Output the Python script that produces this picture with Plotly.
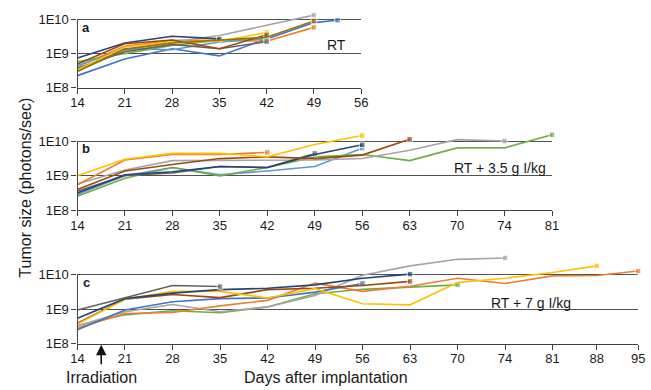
import numpy as np
import plotly.graph_objects as go

# ---------------- data (tumor size, log10 photons/sec) ----------------
TICKS_A = [14, 21, 28, 35, 42, 49, 56]
TICKS_B = [14, 21, 28, 35, 42, 49, 56, 63, 70, 74, 81]
TICKS_C = [14, 21, 28, 35, 42, 49, 56, 63, 70, 74, 81, 88, 95]

# Panel a: RT
A_BLUE_D = [14, 21, 28, 35, 42, 49, 52.5]
A_BLUE = [8.36, 8.85, 9.15, 8.94, 9.44, 9.92, 9.99]
A_ORANGE_D = [14, 21, 28, 35, 42, 49]
A_ORANGE = [8.63, 9.22, 9.40, 9.40, 9.37, 9.78]
A_GRAY_D = [14, 21, 28, 35, 42, 49]
A_GRAY = [8.50, 9.10, 9.35, 9.54, 9.84, 10.14]
A_YELLOW_D = [14, 21, 28, 35, 42]
A_YELLOW = [8.53, 9.20, 9.35, 9.37, 9.63]
A_LBLUE_D = [14, 21, 28, 35, 42]
A_LBLUE = [8.65, 9.15, 9.12, 9.35, 9.45]
A_GREEN_D = [14, 21, 28, 35, 42]
A_GREEN = [8.77, 9.01, 9.25, 9.40, 9.47]
A_NAVY_D = [14, 21, 28, 35]
A_NAVY = [8.88, 9.32, 9.52, 9.44]
A_BROWN_D = [14, 21, 28, 35, 42]
A_BROWN = [8.70, 9.30, 9.41, 9.15, 9.56]
A_DGRAY_D = [14, 21, 28, 35, 42]
A_DGRAY = [8.58, 9.06, 9.28, 9.15, 9.36]
A_GOLD_D = [14, 21, 28, 35, 42, 49]
A_GOLD = [8.48, 9.14, 9.32, 9.40, 9.49, 9.97]

# Panel b: RT + 3.5 g I/kg
B_YELLOW_D = [14, 21, 28, 35, 42, 49, 56]
B_YELLOW = [9.00, 9.48, 9.65, 9.65, 9.55, 9.91, 10.17]
B_ORANGE_D = [14, 21, 28, 35, 42]
B_ORANGE = [8.74, 9.46, 9.62, 9.62, 9.68]
B_GRAY_D = [14, 21, 28, 35, 42, 49, 56, 63, 70, 74]
B_GRAY = [8.76, 9.17, 9.44, 9.44, 9.46, 9.46, 9.50, 9.74, 10.05, 10.01]
B_BROWN_D = [14, 21, 28, 35, 42, 49, 56, 63]
B_BROWN = [8.60, 9.14, 9.33, 9.50, 9.55, 9.50, 9.60, 10.06]
B_NAVY_D = [14, 21, 28, 35, 42, 49, 56]
B_NAVY = [8.50, 9.03, 9.12, 9.27, 9.24, 9.62, 9.90]
B_DGRAY_D = [14, 21, 28, 35, 42, 49]
B_DGRAY = [8.55, 9.01, 9.08, 9.27, 9.24, 9.65]
B_LBLUE_D = [14, 21, 28, 35, 42, 49, 56]
B_LBLUE = [8.46, 9.00, 9.24, 9.03, 9.14, 9.27, 9.80]
B_GREEN_D = [14, 21, 28, 35, 42, 49, 56, 63, 70, 74, 81]
B_GREEN = [8.41, 8.93, 9.24, 9.00, 9.24, 9.55, 9.62, 9.44, 9.81, 9.81, 10.19]

# Panel c: RT + 7 g I/kg
C_DGRAY_D = [14, 21, 28, 35]
C_DGRAY = [8.98, 9.33, 9.69, 9.66]
C_NAVY_D = [14, 21, 28, 35, 42, 49, 56, 63]
C_NAVY = [8.74, 9.31, 9.47, 9.57, 9.61, 9.71, 9.90, 10.02]
C_YELLOW_D = [14, 21, 28, 35, 42, 49, 56, 63, 70, 74, 81, 88]
C_YELLOW = [8.57, 9.29, 9.52, 9.52, 9.33, 9.60, 9.16, 9.13, 9.78, 9.90, 10.07, 10.26]
C_BROWN_D = [14, 21, 28, 35, 42, 49, 56, 63]
C_BROWN = [8.60, 9.29, 9.43, 9.34, 9.57, 9.61, 9.69, 9.81]
C_BLUE_D = [14, 21, 28, 35, 42, 49, 56]
C_BLUE = [8.41, 8.98, 9.22, 9.31, 9.33, 9.50, 9.75]
C_ORANGE_D = [14, 21, 28, 35, 42, 49, 56, 63, 70, 74, 81, 88, 95]
C_ORANGE = [8.46, 8.88, 8.91, 9.10, 9.26, 9.76, 9.52, 9.67, 9.90, 9.75, 9.97, 9.98, 10.11]
C_GRAY_D = [14, 21, 28, 35, 42, 49, 56, 63, 70, 74]
C_GRAY = [8.52, 8.93, 9.14, 8.93, 9.07, 9.40, 9.99, 10.26, 10.45, 10.49]
C_GREEN_D = [14, 21, 28, 35, 42, 49, 56, 63, 70]
C_GREEN = [8.53, 8.84, 8.96, 8.90, 9.07, 9.45, 9.58, 9.65, 9.71]

IRRADIATION_DAY = 17.5

# ---------------- styling ----------------
COL = dict(blue="#4472C4", orange="#ED7D31", gray="#A5A5A5", yellow="#FFC000",
           lblue="#5B9BD5", green="#70AD47", navy="#264478", brown="#9E480E",
           dgray="#636363", gold="#997300")
AXC = "#404040"
FONT = "Liberation Sans, Arial, sans-serif"
W, H = 651, 390

# tick positions on the (evenly spaced) day axis; panel c last two are compressed
POS_A = list(range(len(TICKS_A)))
POS_B = list(range(len(TICKS_B)))
POS_C = list(range(11)) + [10.93, 11.8]

panels = [
    dict(xa="x", ya="y", ticks=TICKS_A, pos=POS_A, right=362, ybot=89.7, dec=34.7, ytop=10.35,
         series=[("blue", A_BLUE_D, A_BLUE), ("orange", A_ORANGE_D, A_ORANGE),
                 ("gray", A_GRAY_D, A_GRAY), ("lblue", A_LBLUE_D, A_LBLUE),
                 ("green", A_GREEN_D, A_GREEN), ("navy", A_NAVY_D, A_NAVY),
                 ("dgray", A_DGRAY_D, A_DGRAY), ("yellow", A_YELLOW_D, A_YELLOW),
                 ("brown", A_BROWN_D, A_BROWN), ("gold", A_GOLD_D, A_GOLD)],
         letter="a"),
    dict(xa="x2", ya="y2", ticks=TICKS_B, pos=POS_B, right=557, ybot=214.7, dec=35.2, ytop=10.3,
         series=[("lblue", B_LBLUE_D, B_LBLUE), ("green", B_GREEN_D, B_GREEN),
                 ("gray", B_GRAY_D, B_GRAY), ("dgray", B_DGRAY_D, B_DGRAY),
                 ("navy", B_NAVY_D, B_NAVY), ("brown", B_BROWN_D, B_BROWN),
                 ("orange", B_ORANGE_D, B_ORANGE), ("yellow", B_YELLOW_D, B_YELLOW)],
         letter="b"),
    dict(xa="x3", ya="y3", ticks=TICKS_C, pos=POS_C, right=645, ybot=351, dec=35.2, ytop=10.6,
         series=[("green", C_GREEN_D, C_GREEN), ("gray", C_GRAY_D, C_GRAY),
                 ("orange", C_ORANGE_D, C_ORANGE), ("blue", C_BLUE_D, C_BLUE),
                 ("brown", C_BROWN_D, C_BROWN), ("yellow", C_YELLOW_D, C_YELLOW),
                 ("navy", C_NAVY_D, C_NAVY), ("dgray", C_DGRAY_D, C_DGRAY)],
         letter="c"),
]

fig = go.Figure()
layout = dict(width=W, height=H, margin=dict(l=0, r=0, t=0, b=0),
              paper_bgcolor="white", plot_bgcolor="white", showlegend=False,
              font=dict(family=FONT, size=13, color="#1a1a1a"))
shapes, annotations = [], []
x_left = 72 / W

for p in panels:
    for cname, days, vals in p["series"]:
        xs = np.interp(days, p["ticks"], p["pos"])
        ys = [10 ** v for v in vals]
        sizes = [0] * (len(xs) - 1) + [5.5]
        fig.add_trace(go.Scatter(x=xs, y=ys, xaxis=p["xa"], yaxis=p["ya"], mode="lines+markers",
                                 line=dict(color=COL[cname], width=1.6),
                                 marker=dict(symbol="square", size=sizes, color=COL[cname]),
                                 cliponaxis=False, hoverinfo="skip"))
    span = p["ytop"] - 8
    ybot_f = 1 - p["ybot"] / H
    ytop_f = 1 - (p["ybot"] - span * p["dec"]) / H
    xkey = "xaxis" + p["xa"][1:]
    ykey = "yaxis" + p["ya"][1:]
    layout[xkey] = dict(domain=[x_left, p["right"] / W], range=[0, p["pos"][-1]],
                        tickvals=p["pos"], ticktext=[str(t) for t in p["ticks"]],
                        ticks="outside", ticklen=5, tickcolor=AXC, showline=True, linecolor=AXC,
                        linewidth=1, showgrid=False, zeroline=False, anchor=p["ya"],
                        ticklabelstandoff=-2,
                        tickfont=dict(size=13, family=FONT, color="#1a1a1a"))
    layout[ykey] = dict(domain=[ybot_f, ytop_f], type="log", range=[8, p["ytop"]],
                        tickvals=[1e8, 1e9, 1e10], ticktext=["1E8", "1E9", "1E10"],
                        ticks="outside", ticklen=5, tickcolor=AXC, showgrid=True,
                        gridcolor="#505050", gridwidth=1, showline=False, zeroline=False,
                        anchor=p["xa"], tickfont=dict(size=13, family=FONT, color="#1a1a1a"))
    # y axis line from 1E8 to 1E10 only
    y10 = ybot_f + (2 / span) * (ytop_f - ybot_f)
    shapes.append(dict(type="line", xref="paper", yref="paper", x0=x_left, x1=x_left,
                       y0=ybot_f, y1=y10, line=dict(color=AXC, width=1)))
    # panel letter
    annotations.append(dict(text="<b>%s</b>" % p["letter"], xref="paper", yref="paper",
                            x=81 / W, y=1 - (p["ybot"] - 2 * p["dec"] + 7.5) / H,
                            showarrow=False, font=dict(size=13, family=FONT, color="#1a1a1a"),
                            xanchor="center", yanchor="middle"))

annotations += [
    dict(text="RT", xref="paper", yref="paper", x=348 / W, y=1 - 46 / H, xanchor="right",
         yanchor="middle", showarrow=False, font=dict(size=14, family=FONT, color="#1a1a1a")),
    dict(text="RT + 3.5 g I/kg", xref="paper", yref="paper", x=553 / W, y=1 - 172 / H,
         xanchor="right", yanchor="middle", showarrow=False,
         font=dict(size=14, family=FONT, color="#1a1a1a")),
    dict(text="RT + 7 g I/kg", xref="paper", yref="paper", x=578 / W, y=1 - 309 / H,
         xanchor="right", yanchor="middle", showarrow=False,
         font=dict(size=14, family=FONT, color="#1a1a1a")),
    dict(text="Tumor size (photons/sec)", xref="paper", yref="paper", x=18 / W, y=1 - 192 / H,
         textangle=-90, showarrow=False, xanchor="center", yanchor="middle",
         font=dict(size=16, family=FONT, color="#1a1a1a")),
    dict(text="Days after implantation", xref="paper", yref="paper", x=326 / W, y=0,
         showarrow=False, xanchor="center", yanchor="bottom", yshift=-5, borderpad=0,
         font=dict(size=16, family=FONT, color="#1a1a1a")),
    dict(text="Irradiation", xref="paper", yref="paper", x=97 / W, y=0,
         showarrow=False, xanchor="center", yanchor="bottom", yshift=-5, borderpad=0,
         font=dict(size=16, family=FONT, color="#1a1a1a")),
    dict(text="", xref="x3", yref="paper", x=float(np.interp(IRRADIATION_DAY, TICKS_C, POS_C)),
         y=1 - 352 / H, showarrow=True, arrowhead=2, arrowsize=1.3, arrowwidth=1.6,
         arrowcolor="#111111", ax=0, ay=21, axref="pixel", ayref="pixel"),
]
layout["shapes"] = shapes
layout["annotations"] = annotations
fig.update_layout(**layout)
fig.write_html("out.html")
